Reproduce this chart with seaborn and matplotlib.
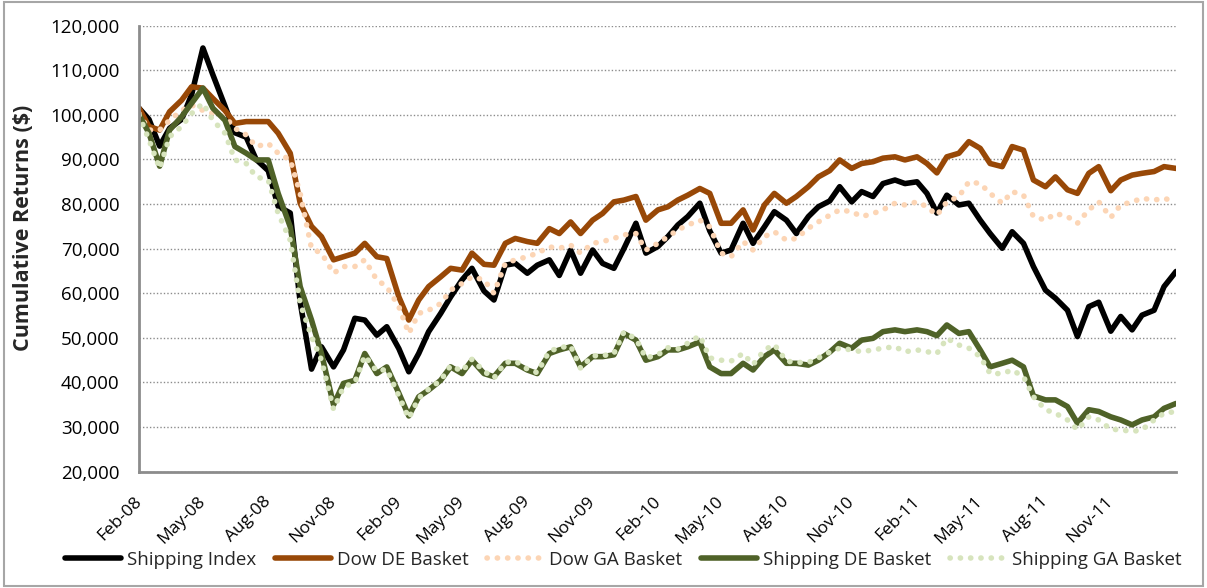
import matplotlib
matplotlib.use("Agg")
import matplotlib.pyplot as plt
import matplotlib.dates as mdates
import matplotlib.ticker as mticker
from matplotlib.patches import Rectangle
import seaborn as sns
import pandas as pd
import numpy as np

# semi-monthly observation dates (1st and 15th), Feb-08 .. Feb-12
dates = pd.date_range("2008-02-01", "2012-02-01", freq="SMS")

# cumulative returns, in thousands of $
shipping_index = [
    101.5, 99.0, 93.0, 97.0, 99.0, 104.5, 115.0, 109.0, 102.0, 96.0, 95.0, 90.0,
    87.5, 79.5, 78.0, 58.0, 43.0, 48.0, 43.5, 47.3, 54.4, 54.0, 50.6, 52.5,
    47.6, 42.4, 46.5, 51.4, 55.5, 59.2, 63.0, 65.6, 60.5, 58.5, 66.3, 66.7,
    64.5, 66.3, 67.5, 64.0, 69.7, 64.5, 69.7, 66.7, 65.6, 70.0, 75.7, 69.0,
    70.5, 72.7, 75.3, 77.2, 80.2, 74.0, 69.0, 69.7, 75.7, 71.2, 74.9, 78.3,
    76.4, 73.4, 77.2, 79.4, 80.7, 83.9, 80.5, 82.8, 81.7, 84.6, 85.4, 84.6,
    85.0, 82.4, 78.0, 82.0, 79.8, 80.2, 76.4, 73.4, 70.1, 73.8, 71.2, 66.0,
    60.7, 58.9, 56.2, 50.3, 57.0, 58.0, 51.5, 54.8, 51.8, 55.1, 56.2, 61.5,
    64.9,
]
dow_de = [
    101.5, 97.4, 96.6, 100.7, 103.3, 106.3, 106.0, 103.7, 101.0, 98.1, 98.5, 98.5,
    98.5, 95.9, 91.4, 80.2, 75.0, 72.7, 67.5, 68.2, 69.0, 71.2, 68.2, 67.8,
    59.2, 54.0, 58.5, 61.5, 63.7, 65.6, 65.2, 69.0, 66.5, 66.3, 71.2, 72.3,
    71.6, 71.2, 74.5, 73.4, 76.0, 73.4, 76.4, 77.9, 80.5, 80.9, 81.7, 76.4,
    78.7, 79.4, 80.9, 82.0, 83.5, 82.4, 75.7, 75.7, 78.7, 74.2, 79.8, 82.4,
    80.2, 81.7, 83.9, 86.1, 87.5, 89.9, 88.0, 89.1, 89.5, 90.3, 90.6, 89.9,
    90.6, 89.1, 87.0, 90.6, 91.4, 94.0, 92.5, 89.1, 88.4, 92.9, 92.1, 85.4,
    83.9, 86.1, 83.2, 82.4, 86.9, 88.4, 83.0, 85.4, 86.5, 86.9, 87.3, 88.4,
    88.0,
]
dow_ga = [
    100.3, 96.6, 96.6, 98.8, 101.0, 102.2, 101.0, 100.3, 99.6, 97.0, 95.5, 92.9,
    93.6, 91.4, 89.9, 82.4, 70.0, 69.0, 64.5, 66.0, 66.0, 67.5, 63.0, 61.5,
    57.0, 51.0, 55.5, 56.2, 57.7, 60.7, 62.2, 63.7, 63.0, 60.0, 66.7, 67.5,
    68.2, 69.0, 70.4, 70.1, 70.8, 69.0, 71.2, 71.6, 72.3, 73.1, 73.4, 69.7,
    71.2, 72.7, 74.2, 75.3, 76.4, 74.9, 69.0, 68.2, 71.6, 69.7, 72.7, 73.8,
    71.9, 72.3, 74.6, 76.0, 77.5, 78.7, 78.3, 77.2, 77.9, 78.7, 80.2, 79.8,
    80.5, 79.4, 77.5, 80.5, 81.7, 85.0, 84.6, 82.4, 80.2, 82.8, 82.0, 77.2,
    76.4, 77.9, 77.2, 75.7, 78.7, 80.5, 77.0, 79.8, 80.5, 81.3, 80.9, 81.3,
    80.5,
]
shipping_de = [
    100.0, 95.9, 88.5, 96.6, 99.6, 102.6, 106.0, 101.5, 98.8, 92.9, 91.4, 89.9,
    89.9, 82.4, 74.9, 61.5, 54.0, 46.5, 35.0, 39.8, 40.5, 46.5, 42.0, 43.5,
    37.6, 32.5, 36.8, 38.3, 40.5, 43.5, 42.0, 45.0, 42.0, 41.3, 44.3, 44.3,
    42.8, 42.0, 46.5, 47.3, 48.0, 43.5, 45.8, 45.8, 46.2, 51.0, 49.5, 45.0,
    45.8, 47.3, 47.3, 48.0, 49.1, 43.5, 42.0, 42.0, 44.3, 42.8, 45.8, 47.3,
    44.3, 44.3, 43.9, 45.0, 46.8, 48.8, 47.7, 49.5, 49.9, 51.4, 51.8, 51.4,
    51.8, 51.4, 50.5, 52.9, 51.0, 51.4, 47.3, 43.5, 44.3, 45.0, 43.5, 37.0,
    36.1, 36.1, 34.6, 30.9, 33.9, 33.5, 32.3, 31.6, 30.5, 31.6, 32.3, 34.2,
    35.3,
]
shipping_ga = [
    100.0, 94.4, 88.0, 95.1, 97.4, 100.3, 102.6, 98.8, 95.9, 89.9, 89.1, 86.1,
    85.4, 77.9, 71.9, 57.7, 50.3, 45.0, 34.0, 39.0, 40.0, 46.0, 42.5, 43.0,
    37.0, 32.0, 36.5, 38.5, 40.5, 43.8, 42.5, 45.2, 42.5, 41.0, 44.5, 44.8,
    43.0, 42.2, 47.0, 47.8, 48.2, 43.2, 46.0, 46.0, 46.5, 51.3, 49.8, 45.5,
    46.2, 47.8, 47.5, 48.8, 50.5, 45.5, 45.0, 44.8, 46.5, 44.0, 47.3, 48.5,
    44.8, 44.5, 44.5, 45.5, 46.8, 47.7, 47.3, 46.9, 47.3, 47.7, 48.0, 46.9,
    47.3, 46.9, 46.5, 49.9, 48.4, 47.7, 45.8, 42.0, 42.0, 42.8, 41.3, 36.8,
    33.9, 33.1, 31.6, 29.4, 32.3, 31.6, 29.5, 29.4, 29.0, 29.4, 31.6, 33.1,
    33.5,
]

names = ["Shipping Index", "Dow DE Basket", "Dow GA Basket",
         "Shipping DE Basket", "Shipping GA Basket"]
series = [shipping_index, dow_de, dow_ga, shipping_de, shipping_ga]
colors = ["#000000", "#984807", "#FCD5B5", "#4F6228", "#D7E4BD"]
dotted = [False, False, True, False, True]

sns.set_style("white")
plt.rcParams["font.family"] = ["Open Sans", "DejaVu Sans"]

fig = plt.figure(figsize=(12.07, 5.88), dpi=100)
ax = fig.add_axes([0.1152, 0.1978, 0.8592, 0.7585])

for name, vals, c, dot in zip(names, series, colors, dotted):
    y = np.array(vals) * 1000
    if dot:
        sns.lineplot(x=dates, y=y, ax=ax, color=c, label=name, linewidth=4.0,
                     linestyle=(0, (0.05, 1.8)), dash_capstyle="round")
    else:
        sns.lineplot(x=dates, y=y, ax=ax, color=c, label=name, linewidth=4.0,
                     solid_joinstyle="round", solid_capstyle="round")

ax.set_ylim(20000, 120000)
ax.set_xlim(dates[0], dates[-1])
ax.yaxis.set_major_locator(mticker.MultipleLocator(10000))
ax.yaxis.set_major_formatter(mticker.StrMethodFormatter("{x:,.0f}"))
ax.set_xticks(pd.date_range("2008-02-01", "2011-11-01", freq="3MS"))
ax.xaxis.set_major_formatter(mdates.DateFormatter("%b-%y"))

ax.grid(axis="y", color="#8c8c8c", linestyle=(0, (1, 1.5)), linewidth=1.0)
ax.grid(axis="x", visible=False)
for s in ["top", "right"]:
    ax.spines[s].set_visible(False)
for s in ["left", "bottom"]:
    ax.spines[s].set_color("#8c8c8c")
    ax.spines[s].set_linewidth(2)

ax.tick_params(axis="y", length=0, pad=14, labelsize=13.5, labelcolor="black")
ax.tick_params(axis="x", length=0, pad=20, labelsize=12.5, labelcolor="black")
for lbl in ax.get_xticklabels():
    lbl.set_rotation(45)
    lbl.set_ha("right")
    lbl.set_va("center")
    lbl.set_rotation_mode("anchor")

ax.set_xlabel("")
ax.set_ylabel("Cumulative Returns ($)", fontsize=15.5, fontweight="bold")
ax.yaxis.set_label_coords(-0.101, 0.546)

handles, labels = ax.get_legend_handles_labels()
ax.get_legend().remove()
fig.legend(handles, labels, loc="center", bbox_to_anchor=(623 / 1207, 1 - 560 / 588),
           ncol=5, frameon=False, fontsize=13.5, handlelength=3.0,
           handletextpad=0.3, columnspacing=1.0)

fig.patches.append(Rectangle((0.003, 0.004), 0.994, 0.992, transform=fig.transFigure,
                             fill=False, edgecolor="#a6a6a6", linewidth=1.5))

fig.savefig("out.png", dpi=100)
